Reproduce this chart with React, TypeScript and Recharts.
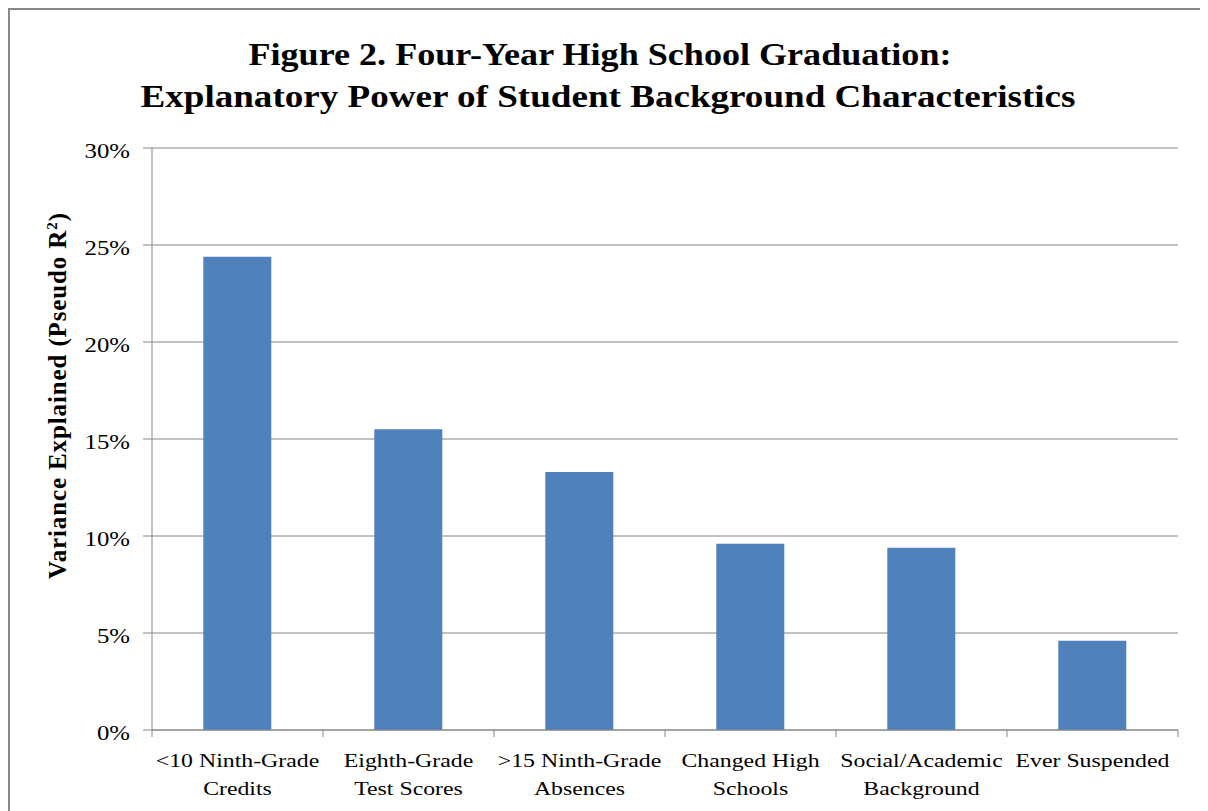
import { BarChart, Bar, XAxis, YAxis, CartesianGrid } from 'recharts';

const categoryLabels: string[][] = [
  ['<10 Ninth-Grade', 'Credits'],
  ['Eighth-Grade', 'Test Scores'],
  ['>15 Ninth-Grade', 'Absences'],
  ['Changed High', 'Schools'],
  ['Social/Academic', 'Background'],
  ['Ever Suspended'],
];
const categories = categoryLabels.map(lines => lines.join(' '));
const varianceExplained = [0.244, 0.155, 0.133, 0.096, 0.094, 0.046];
const yTicks = [0, 0.05, 0.1, 0.15, 0.2, 0.25, 0.3];

const titleLines = [
  'Figure 2. Four-Year High School Graduation:',
  'Explanatory Power of Student Background Characteristics',
];
const titleWidths = [703, 935];

const data = categories.map((name, i) => ({ name, value: varianceExplained[i] }));

const SERIF = '"Liberation Serif", "Times New Roman", serif';
const GRID = '#868686';
const BAR = '#4F81BD';

const W = 1194;
const H = 801;
const PLOT_LEFT = 142;
const PLOT_RIGHT = 26;

const YTick = ({ x, y, payload }: any) => (
  <g transform={`translate(${x},${y})`}>
    <text
      transform="scale(1.24,1)"
      textAnchor="end"
      dy={10}
      fontFamily={SERIF}
      fontSize={20}
      fill="#000"
    >
      {`${Math.round(payload.value * 100)}%`}
    </text>
  </g>
);

const XTick = ({ x, y, payload, index }: any) => {
  const band = (W - PLOT_LEFT - PLOT_RIGHT) / categories.length;
  const half = payload.offset || band / 2;
  const lines = categoryLabels[index] || [payload.value];
  return (
    <g>
      <line x1={x - half} x2={x - half} y1={y} y2={y + 7} stroke={GRID} />
      {index === categories.length - 1 && (
        <line x1={x + half} x2={x + half} y1={y} y2={y + 7} stroke={GRID} />
      )}
      <g transform={`translate(${x},${y})`}>
        {lines.map((line, i) => (
          <text
            key={i}
            transform="scale(1.22,1)"
            textAnchor="middle"
            y={37 + i * 28.5}
            fontFamily={SERIF}
            fontSize={19.5}
            fill="#000"
          >
            {line}
          </text>
        ))}
      </g>
    </g>
  );
};

export default function App() {
  return (
    <>
      <style>{'html,body{overflow:hidden}'}</style>
      <div
        style={{
          position: 'relative',
          width: W,
          height: H,
          border: '2px solid #888',
          background: '#fff',
        }}
      >
        <BarChart
          width={W}
          height={H}
          data={data}
          margin={{ top: 138, right: PLOT_RIGHT, bottom: 0, left: 0 }}
          barCategoryGap="30%"
        >
          <CartesianGrid vertical={false} stroke={GRID} />
          <XAxis
            dataKey="name"
            height={81}
            interval={0}
            tickSize={0}
            tickMargin={0}
            tickLine={false}
            axisLine={{ stroke: GRID }}
            tick={<XTick />}
          />
          <YAxis
            width={PLOT_LEFT}
            domain={[0, 0.3]}
            ticks={yTicks}
            interval={0}
            tickSize={9}
            tickMargin={13}
            tickLine={{ stroke: GRID }}
            axisLine={{ stroke: GRID }}
            tick={<YTick />}
          />
          <Bar dataKey="value" fill={BAR} isAnimationActive={false} />
        </BarChart>
        <svg
          width={W}
          height={H}
          style={{ position: 'absolute', left: 0, top: 0, pointerEvents: 'none' }}
        >
          {titleLines.map((line, i) => (
            <text
              key={i}
              x={i === 0 ? 590 : 598}
              y={55 + i * 42}
              textAnchor="middle"
              fontFamily={SERIF}
              fontWeight="bold"
              fontSize={32}
              fill="#000"
              textLength={titleWidths[i]}
              lengthAdjust="spacingAndGlyphs"
            >
              {line}
            </text>
          ))}
          <text
            transform="translate(56,386) rotate(-90)"
            textAnchor="middle"
            fontFamily={SERIF}
            fontWeight="bold"
            fontSize={25}
            fill="#000"
            textLength={366}
            lengthAdjust="spacing"
          >
            Variance Explained (Pseudo R<tspan dy={-9} fontSize={15}>2</tspan>
            <tspan dy={9}>)</tspan>
          </text>
        </svg>
      </div>
    </>
  );
}
